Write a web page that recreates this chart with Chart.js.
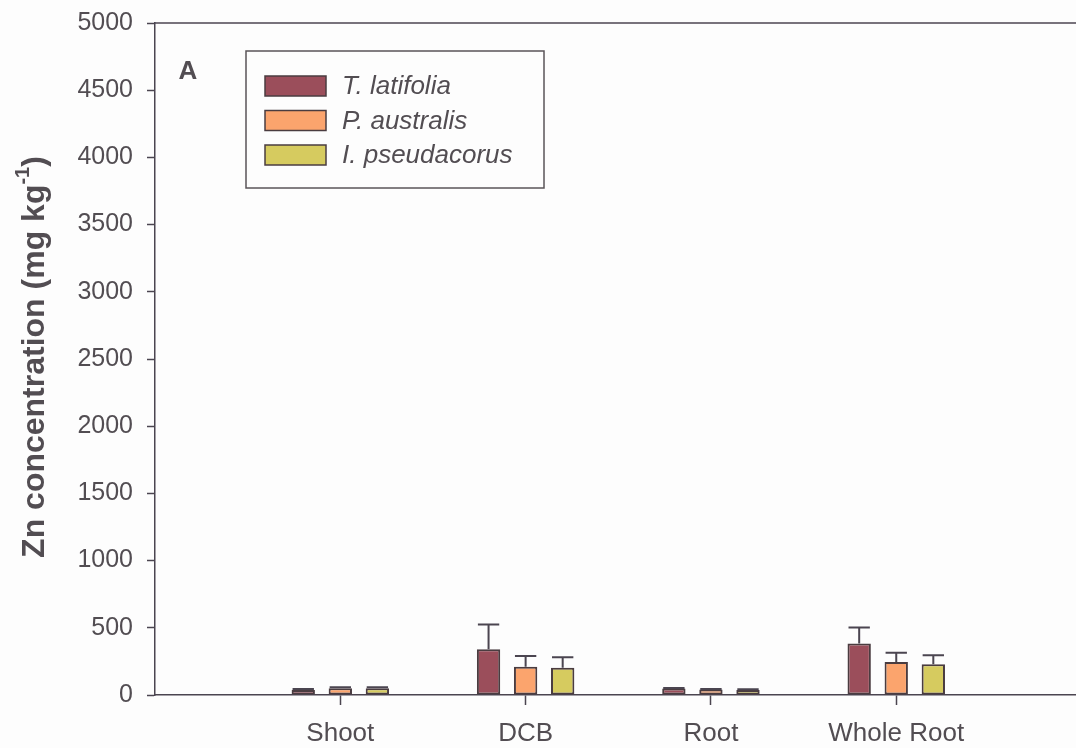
<!DOCTYPE html>
<html>
<head>
<meta charset="utf-8">
<script src="https://cdn.jsdelivr.net/npm/chart.js@4.4.1/dist/chart.umd.min.js"></script>
<style>
  html, body { margin: 0; padding: 0; background: #fdfdfd; }
  #wrap { width: 1076px; height: 748px; }
</style>
</head>
<body>
<div id="wrap"><canvas id="znChart"></canvas></div>
<script>
// Data
const categories = ["Shoot", "DCB", "Root", "Whole Root"];
const speciesNames = ["T. latifolia", "P. australis", "I. pseudacorus"];
const typhaValues = [38, 340, 48, 384];
const typhaErrors = [6, 185, 5, 119];
const phragValues = [50, 210, 40, 245];
const phragErrors = [7, 80, 4, 69];
const irisValues = [50, 203, 38, 228];
const irisErrors = [7, 77, 4, 67];
const yTicks = [0, 500, 1000, 1500, 2000, 2500, 3000, 3500, 4000, 4500, 5000];

const lineColor = "#4b4550";
const textColor = "#524d52";
const barColors = ["#9b4e5b", "#fba46d", "#d6cb5f"];
const fontFamily = "'Liberation Sans', Arial, sans-serif";

const toPoints = (vals) => vals.map((v, i) => ({ x: i + 1, y: v }));

const seriesValues = [typhaValues, phragValues, irisValues];
const seriesErrors = [typhaErrors, phragErrors, irisErrors];

// upper error bars
const errorBars = {
  id: "errorBars",
  afterDatasetsDraw(chart) {
    const ctx = chart.ctx;
    const yScale = chart.scales.y;
    ctx.save();
    ctx.strokeStyle = lineColor;
    ctx.lineWidth = 2;
    chart.data.datasets.forEach((ds, d) => {
      const meta = chart.getDatasetMeta(d);
      meta.data.forEach((bar, i) => {
        const top = yScale.getPixelForValue(seriesValues[d][i] + seriesErrors[d][i]);
        const half = bar.width / 2 - 1;
        ctx.beginPath();
        ctx.moveTo(bar.x, bar.y);
        ctx.lineTo(bar.x, top);
        ctx.moveTo(bar.x - half, top);
        ctx.lineTo(bar.x + half, top);
        ctx.stroke();
      });
    });
    ctx.restore();
  },
};

// frame top line, panel letter, legend box, y title with superscript
const decorations = {
  id: "decorations",
  afterDraw(chart) {
    const ctx = chart.ctx;
    const area = chart.chartArea;
    ctx.save();
    ctx.strokeStyle = lineColor;
    ctx.lineWidth = 1.5;
    ctx.beginPath();
    ctx.moveTo(area.left, area.top);
    ctx.lineTo(area.right, area.top);
    ctx.stroke();

    ctx.fillStyle = textColor;
    ctx.font = "bold 26px " + fontFamily;
    ctx.textAlign = "center";
    ctx.textBaseline = "middle";
    ctx.fillText("A", 188, 72);

    // legend
    ctx.strokeStyle = "#5a5458";
    ctx.lineWidth = 1.5;
    ctx.strokeRect(246, 51, 298, 137);
    const rows = [86, 120.5, 155];
    ctx.font = "italic 26px " + fontFamily;
    ctx.textAlign = "left";
    speciesNames.forEach((name, i) => {
      ctx.fillStyle = barColors[i];
      ctx.fillRect(265, rows[i] - 10, 61, 20);
      ctx.strokeStyle = "#4a3c40";
      ctx.lineWidth = 1.5;
      ctx.strokeRect(265, rows[i] - 10, 61, 20);
      ctx.fillStyle = textColor;
      ctx.fillText(name, 342, rows[i] + 1);
    });

    // y axis title
    ctx.translate(35, 357);
    ctx.rotate(-Math.PI / 2);
    const main = "Zn concentration (mg kg";
    const sup = "-1";
    const close = ")";
    ctx.font = "bold 32px " + fontFamily;
    const wMain = ctx.measureText(main).width;
    const wClose = ctx.measureText(close).width;
    ctx.font = "bold 20px " + fontFamily;
    const wSup = ctx.measureText(sup).width;
    let x = -(wMain + wSup + wClose) / 2;
    ctx.fillStyle = textColor;
    ctx.textAlign = "left";
    ctx.textBaseline = "middle";
    ctx.font = "bold 32px " + fontFamily;
    ctx.fillText(main, x, 0);
    x += wMain;
    ctx.font = "bold 20px " + fontFamily;
    ctx.fillText(sup, x, -12);
    x += wSup;
    ctx.font = "bold 32px " + fontFamily;
    ctx.fillText(close, x, 0);
    ctx.restore();
  },
};

const znCtx = document.getElementById("znChart").getContext("2d");

new Chart(znCtx, {
  type: "bar",
  data: {
    datasets: speciesNames.map((name, i) => ({
      label: name,
      data: toPoints(seriesValues[i]),
      backgroundColor: barColors[i],
      borderColor: "#4a3c40",
      borderWidth: 2,
      borderSkipped: false,
      categoryPercentage: 0.6,
      barPercentage: 0.63,
    })),
  },
  options: {
    responsive: true,
    maintainAspectRatio: false,
    animation: false,
    layout: { padding: { top: 23, right: 0, left: 0, bottom: 0 } },
    plugins: {
      legend: { display: false },
      tooltip: { enabled: false },
    },
    scales: {
      x: {
        type: "linear",
        offset: false,
        min: 0,
        max: 4.97,
        afterBuildTicks: (scale) => {
          scale.ticks = categories.map((c, i) => ({ value: i + 1 }));
        },
        afterFit: (scale) => {
          scale.height = 53;
          scale.paddingLeft = 0;
          scale.paddingRight = 0;
        },
        ticks: {
          callback: (v) => categories[v - 1] || "",
          color: textColor,
          font: { family: fontFamily, size: 26 },
          padding: 13,
          maxRotation: 0,
          autoSkip: false,
        },
        grid: {
          offset: false,
          drawOnChartArea: false,
          tickLength: 10,
          tickColor: lineColor,
          tickWidth: 1.5,
        },
        border: { color: lineColor, width: 1.5 },
      },
      y: {
        min: 0,
        max: 5000,
        afterBuildTicks: (scale) => {
          scale.ticks = yTicks.map((v) => ({ value: v }));
        },
        afterFit: (scale) => {
          scale.width = 155;
          scale.paddingTop = 0;
          scale.paddingBottom = 0;
        },
        ticks: {
          callback: (v) => String(v),
          color: textColor,
          font: { family: fontFamily, size: 25 },
          padding: 14,
        },
        grid: {
          drawOnChartArea: false,
          tickLength: 8,
          tickColor: lineColor,
          tickWidth: 1.5,
        },
        border: { color: lineColor, width: 1.5 },
      },
    },
  },
  plugins: [errorBars, decorations],
});
</script>
</body>
</html>
